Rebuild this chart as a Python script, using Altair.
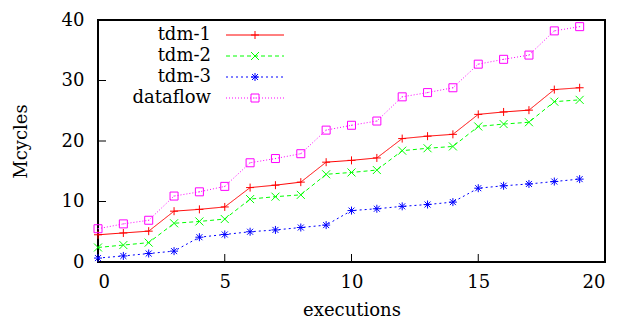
import altair as alt
import pandas as pd

series_names = ["tdm-1", "tdm-2", "tdm-3", "dataflow"]
executions = list(range(20))
tdm1 = [4.5, 4.8, 5.1, 8.4, 8.7, 9.1, 12.3, 12.7, 13.2, 16.5, 16.8, 17.2, 20.4, 20.8, 21.1, 24.4, 24.8, 25.1, 28.5, 28.8]
tdm2 = [2.4, 2.8, 3.2, 6.4, 6.7, 7.1, 10.4, 10.8, 11.1, 14.5, 14.8, 15.2, 18.4, 18.8, 19.1, 22.4, 22.8, 23.1, 26.5, 26.8]
tdm3 = [0.65, 1.0, 1.4, 1.8, 4.1, 4.55, 5.0, 5.3, 5.7, 6.1, 8.5, 8.8, 9.2, 9.5, 9.9, 12.2, 12.6, 12.9, 13.3, 13.7]
dataflow = [5.5, 6.3, 6.9, 10.9, 11.6, 12.5, 16.4, 17.1, 17.9, 21.8, 22.6, 23.3, 27.3, 28.0, 28.8, 32.7, 33.5, 34.2, 38.2, 38.9]
x_ticks = [0, 5, 10, 15, 20]
y_ticks = [0, 10, 20, 30, 40]

colors = ["#ff0000", "#00ff00", "#0000ff", "#ff00ff"]
dashes = [[1, 0], [4, 3], [2, 3], [1, 2]]
shapes = [
    "M-1,0L1,0M0,-1L0,1",
    "M-1,-1L1,1M-1,1L1,-1",
    "M-1,0L1,0M0,-1L0,1M-0.75,-0.75L0.75,0.75M-0.75,0.75L0.75,-0.75",
    "M-1,-1L1,-1L1,1L-1,1ZM-0.12,0L0.12,0",
]

FONT = "DejaVu Serif"
FS = 18
W, H = 507, 242

xs = alt.X("x:Q", scale=alt.Scale(domain=[0, 20], nice=False),
           axis=alt.Axis(values=x_ticks, title="executions", labelPadding=11, titlePadding=10))
ys = alt.Y("y:Q", scale=alt.Scale(domain=[0, 40], nice=False),
           axis=alt.Axis(values=y_ticks, title="Mcycles", labelPadding=14, titlePadding=31))

xt_df = pd.DataFrame({"t": x_ticks})
yt_df = pd.DataFrame({"t": y_ticks})

frame = alt.Chart(xt_df).mark_rect(stroke="black", strokeWidth=1.5, fillOpacity=0).encode(
    x=alt.value(0), x2=alt.value(W), y=alt.value(0), y2=alt.value(H))
xticks = alt.Chart(xt_df).mark_rule(stroke="black", strokeWidth=1).encode(
    x=alt.X("t:Q", scale=alt.Scale(domain=[0, 20], nice=False), axis=alt.Axis(values=x_ticks, title="executions", labelPadding=11, titlePadding=10)),
    y=alt.value(H), y2=alt.value(H - 8))
yticks = alt.Chart(yt_df).mark_rule(stroke="black", strokeWidth=1).encode(
    y=alt.Y("t:Q", scale=alt.Scale(domain=[0, 40], nice=False), axis=alt.Axis(values=y_ticks, title="Mcycles", labelPadding=14, titlePadding=31)),
    x=alt.value(0), x2=alt.value(8))

layers = [frame, xticks, yticks]
for i, (name, vals) in enumerate(zip(series_names, [tdm1, tdm2, tdm3, dataflow])):
    sdf = pd.DataFrame({"x": executions, "y": vals, "series": name})
    layers.append(alt.Chart(sdf).mark_line(stroke=colors[i], strokeWidth=1, strokeDash=dashes[i]).encode(
        x=alt.X("x:Q", scale=alt.Scale(domain=[0, 20], nice=False), title="executions"),
        y=alt.Y("y:Q", scale=alt.Scale(domain=[0, 40], nice=False), title="Mcycles")))
    layers.append(alt.Chart(sdf).mark_point(shape=shapes[i], stroke=colors[i], fill=colors[i], fillOpacity=0,
                                            strokeWidth=1, size=64, opacity=1).encode(
        x="x:Q", y="y:Q"))
    ldf = pd.DataFrame({"series": [name]})
    yy = 15 + 21 * i
    layers.append(alt.Chart(ldf).mark_rule(stroke=colors[i], strokeWidth=1, strokeDash=dashes[i]).encode(
        x=alt.value(128), x2=alt.value(186), y=alt.value(yy)))
    layers.append(alt.Chart(ldf).mark_point(shape=shapes[i], stroke=colors[i], fill=colors[i], fillOpacity=0,
                                            strokeWidth=1, size=64, opacity=1).encode(
        x=alt.value(157), y=alt.value(yy)))
    layers.append(alt.Chart(ldf).mark_text(align="right", baseline="middle", font=FONT, fontSize=FS, color="black").encode(
        x=alt.value(113), y=alt.value(yy), text="series:N"))

chart = alt.layer(*layers).properties(
    width=W, height=H,
    padding={"left": 4, "top": 3, "right": 0, "bottom": 0},
).configure_view(stroke="black", strokeWidth=1.5).configure_axis(
    domain=False, ticks=False, grid=False,
    labelFont=FONT, titleFont=FONT, labelFontSize=FS, titleFontSize=FS,
    labelColor="black", titleColor="black", titleFontWeight="normal",
)

chart.save("out.html", embed_options={"renderer": "svg", "actions": False})
